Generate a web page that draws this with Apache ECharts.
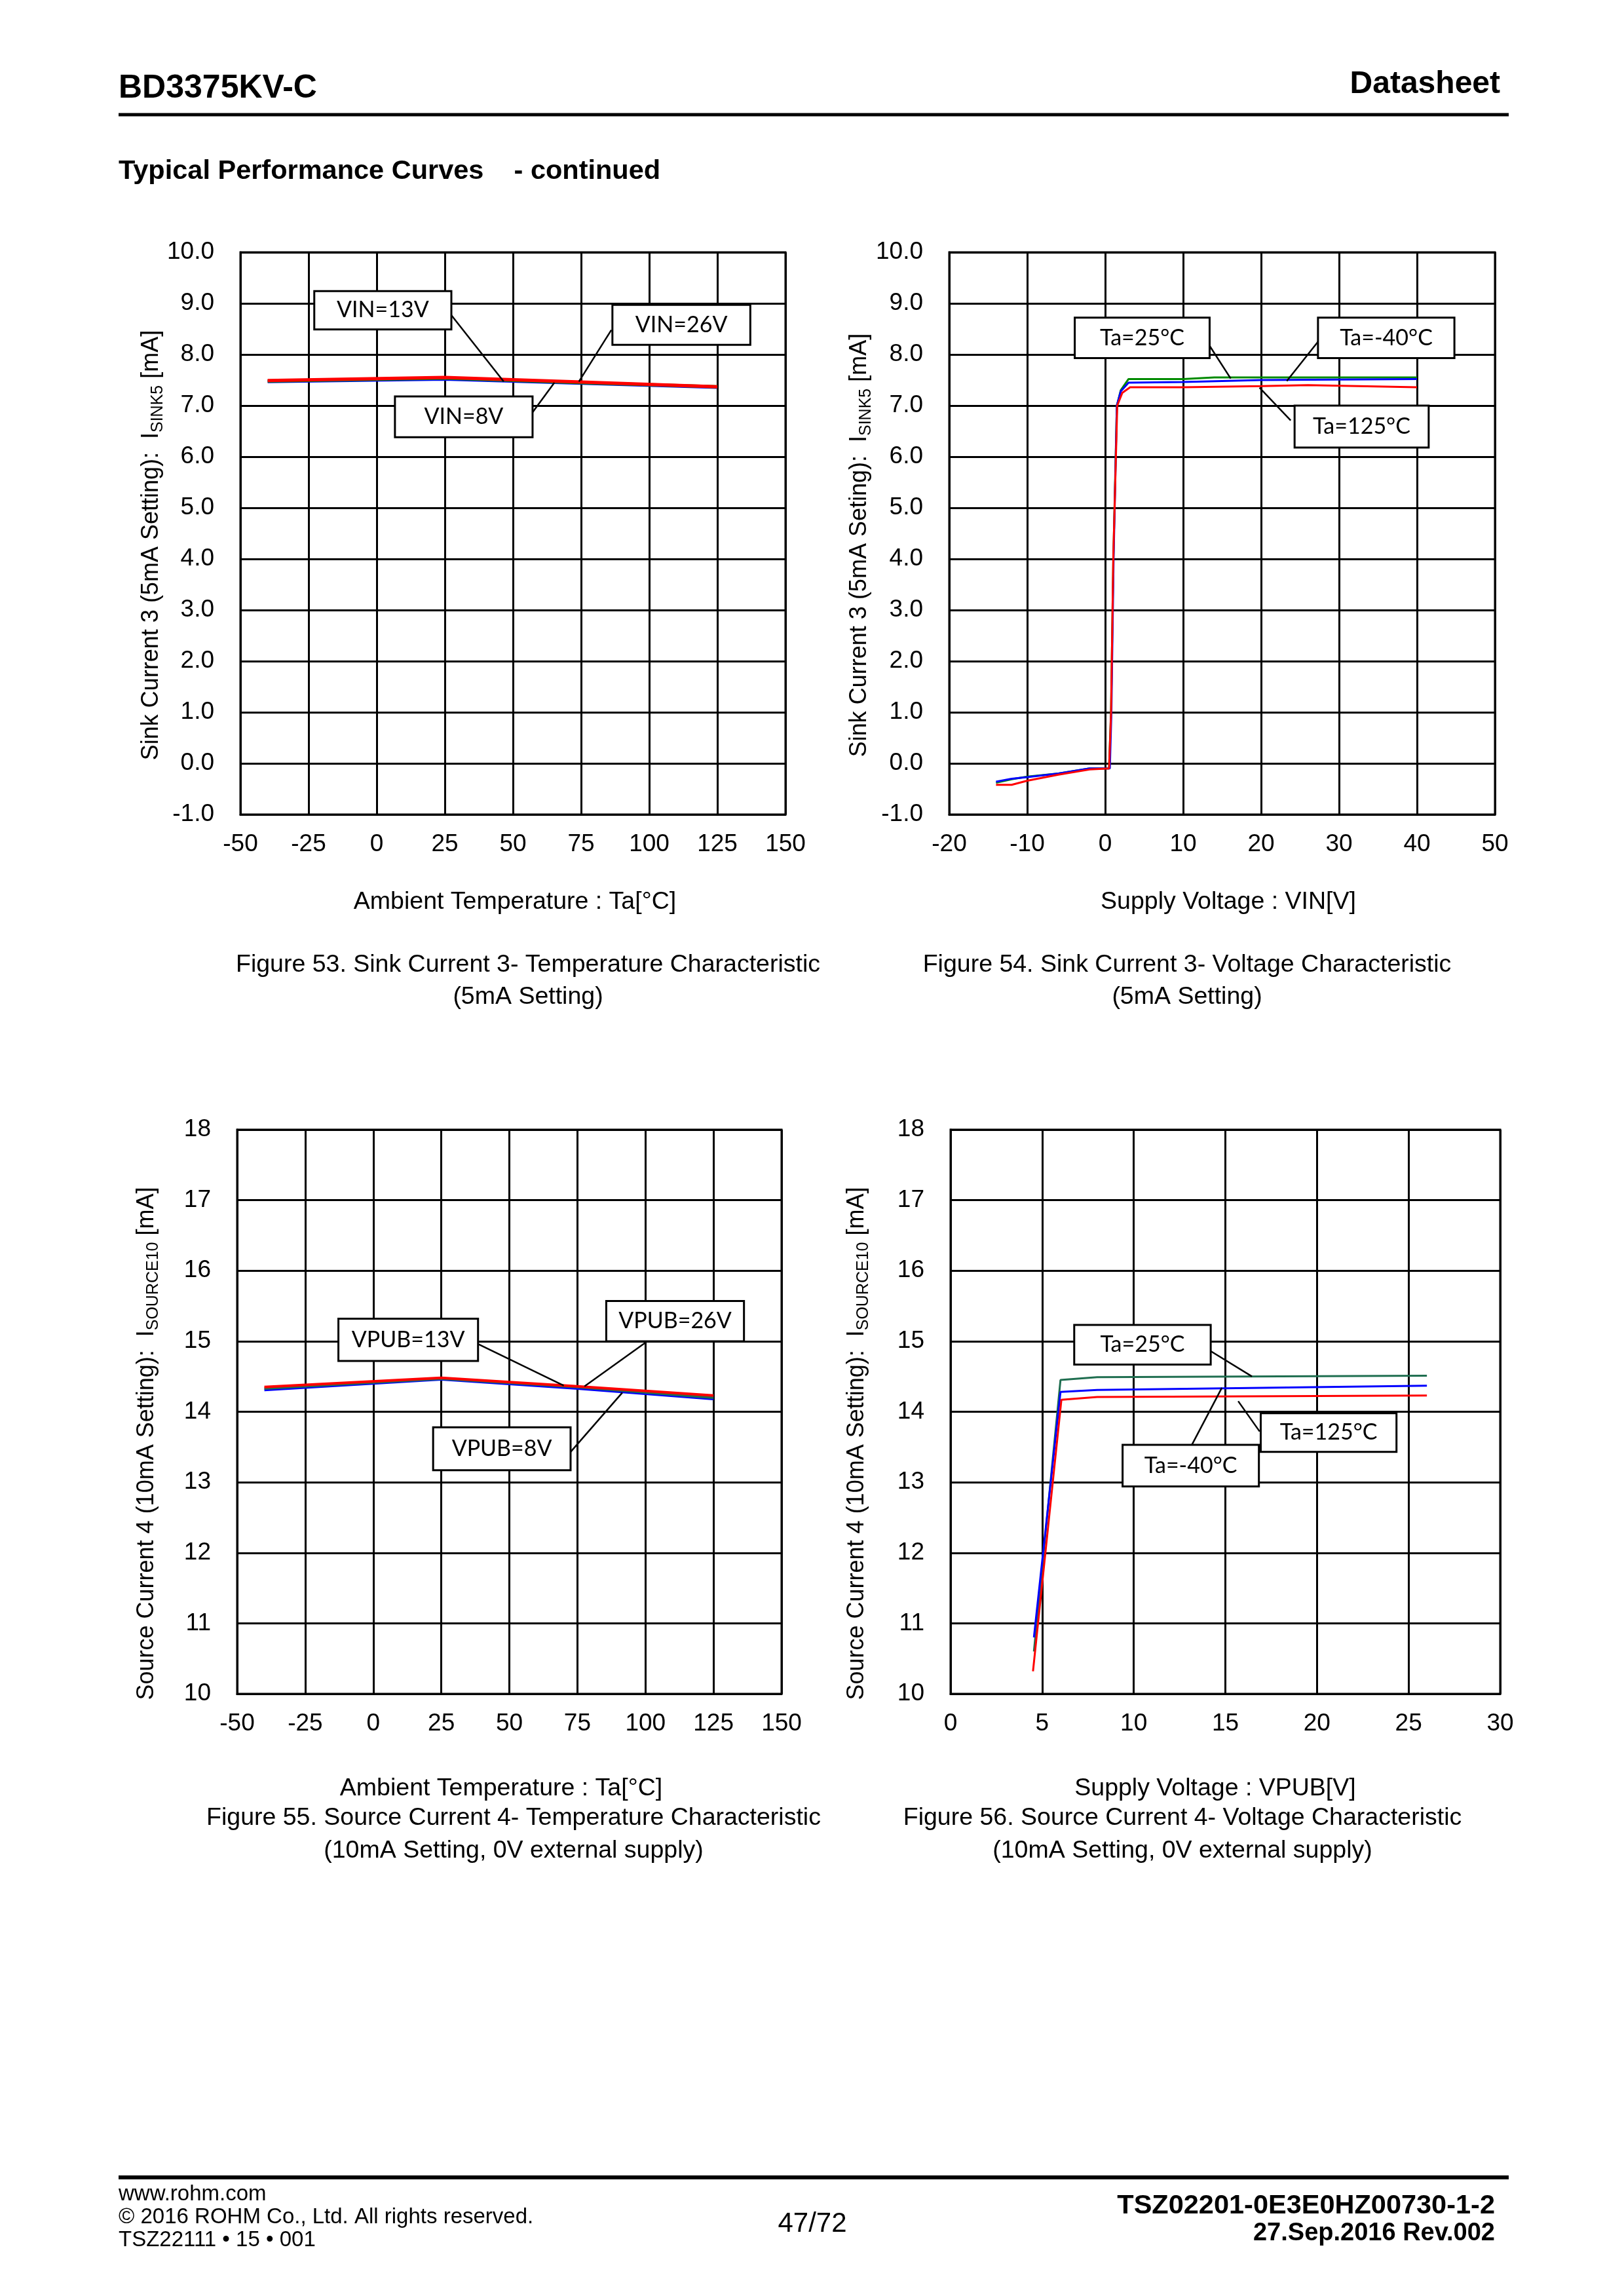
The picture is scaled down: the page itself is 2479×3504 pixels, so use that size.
<!DOCTYPE html>
<html>
<head>
<meta charset="utf-8">
<script src="https://cdn.jsdelivr.net/npm/echarts@6/dist/echarts.min.js"></script>
<style>html,body{margin:0;padding:0;background:#fff}#c{width:2479px;height:3504px}</style>
</head>
<body>
<div id="c"></div>
<script>
// ---------- DATA ----------
// Figure 53: Sink current vs temperature
const f53Temp = [-40, 25, 75, 125];
const f53Vin8 = [7.47, 7.52, 7.44, 7.36];
const f53Vin13 = [7.48, 7.54, 7.45, 7.37];
const f53Vin26 = [7.49, 7.55, 7.46, 7.37];

// Figure 54: Sink current vs supply voltage
const f54Ta25X = [-14, -12, -10, -6, -2, 0.5, 0.75, 1.05, 1.5, 2, 3, 10, 14, 40];
const f54Ta25Y = [-0.38, -0.31, -0.26, -0.2, -0.1, -0.1, 1.0, 4.0, 7.0, 7.3, 7.52, 7.52, 7.55, 7.55];
const f54TaM40X = [-14, -12, -10, -6, -2, 0.6, 0.8, 1.08, 1.5, 2, 3, 10, 20, 40];
const f54TaM40Y = [-0.36, -0.3, -0.27, -0.2, -0.1, -0.1, 1.0, 4.0, 7.0, 7.28, 7.45, 7.46, 7.5, 7.52];
const f54Ta125X = [-14, -12, -10, -6, -2, 0.5, 0.76, 1.04, 1.55, 2.2, 3.2, 10, 20, 26, 40];
const f54Ta125Y = [-0.42, -0.42, -0.34, -0.22, -0.12, -0.1, 1.0, 4.0, 7.0, 7.25, 7.36, 7.36, 7.38, 7.4, 7.36];

// Figure 55: Source current vs temperature
const f55Temp = [-40, 25, 75, 125];
const f55Vpub8 = [14.31, 14.46, 14.33, 14.18];
const f55Vpub13 = [14.33, 14.47, 14.35, 14.20];
const f55Vpub26 = [14.35, 14.48, 14.36, 14.23];

// Figure 56: Source current vs supply voltage
const f56Ta25X = [4.55, 6, 8, 26];
const f56Ta25Y = [10.6, 14.45, 14.49, 14.51];
const f56TaM40X = [4.55, 6, 8, 26];
const f56TaM40Y = [10.8, 14.28, 14.31, 14.37];
const f56Ta125X = [4.5, 6.05, 8, 26];
const f56Ta125Y = [10.32, 14.17, 14.21, 14.23];

// Axis tick setups
const tempAxis = {min: -50, max: 150, interval: 25};
const vinAxis = {min: -20, max: 50, interval: 10};
const vpubAxis = {min: 0, max: 30, interval: 5};
const sinkAxis = {min: -1, max: 10, interval: 1};
const srcAxis = {min: 10, max: 18, interval: 1};

// ---------- STYLE / LAYOUT ----------
const FONT = '"Liberation Sans", Arial, sans-serif';
const BOXFONT = 'Lato, "Open Sans", sans-serif';
const BLUE = '#0000FF', GREEN = '#008A00', RED = '#FF0000', DKGREEN = '#1F6E50';

const grids = [
  {left: 367, top: 385, width: 832, height: 858},
  {left: 1449, top: 385, width: 833, height: 858},
  {left: 362, top: 1724, width: 831, height: 861},
  {left: 1451, top: 1724, width: 839, height: 861}
];

function zip(xs, ys) { return xs.map((x, i) => [x, ys[i]]); }

function xAx(i, a) {
  return {type: 'value', gridIndex: i, min: a.min, max: a.max, interval: a.interval,
    axisLine: {show: true, onZero: false, lineStyle: {color: '#000', width: 3}},
    axisTick: {show: false},
    splitLine: {show: true, lineStyle: {color: '#000', width: 3}},
    axisLabel: {color: '#000', fontSize: 37, fontFamily: FONT, margin: 27}};
}
function yAx(i, a, dec) {
  return {type: 'value', gridIndex: i, min: a.min, max: a.max, interval: a.interval,
    axisLine: {show: true, onZero: false, lineStyle: {color: '#000', width: 3}},
    axisTick: {show: false},
    splitLine: {show: true, lineStyle: {color: '#000', width: 3}},
    axisLabel: {color: '#000', fontSize: 37, fontFamily: FONT, margin: 40,
      formatter: v => dec ? v.toFixed(1) : String(v)}};
}
function ln(i, name, data, color, w) {
  return {type: 'line', name: name, xAxisIndex: i, yAxisIndex: i, data: data,
    showSymbol: false, symbol: 'none', lineStyle: {color: color, width: w}, itemStyle: {color: color},
    animation: false, z: 3};
}

const chart = echarts.init(document.getElementById('c'), null, {renderer: 'canvas'});
chart.setOption({
  backgroundColor: '#fff',
  animation: false,
  grid: grids.map(g => Object.assign({show: true, borderColor: '#000', borderWidth: 3, backgroundColor: '#fff'}, g)),
  xAxis: [xAx(0, tempAxis), xAx(1, vinAxis), xAx(2, tempAxis), xAx(3, vpubAxis)],
  yAxis: [yAx(0, sinkAxis, true), yAx(1, sinkAxis, true), yAx(2, srcAxis, false), yAx(3, srcAxis, false)],
  series: [
    ln(0, 'VIN=8V', zip(f53Temp, f53Vin8), BLUE, 5),
    ln(0, 'VIN=13V', zip(f53Temp, f53Vin13), GREEN, 5),
    ln(0, 'VIN=26V', zip(f53Temp, f53Vin26), RED, 5),
    ln(1, 'Ta=25°C', zip(f54Ta25X, f54Ta25Y), GREEN, 3),
    ln(1, 'Ta=-40°C', zip(f54TaM40X, f54TaM40Y), BLUE, 3),
    ln(1, 'Ta=125°C', zip(f54Ta125X, f54Ta125Y), RED, 3),
    ln(2, 'VPUB=8V', zip(f55Temp, f55Vpub8), BLUE, 4),
    ln(2, 'VPUB=13V', zip(f55Temp, f55Vpub13), DKGREEN, 4),
    ln(2, 'VPUB=26V', zip(f55Temp, f55Vpub26), RED, 4),
    ln(3, 'Ta=25°C', zip(f56Ta25X, f56Ta25Y), DKGREEN, 3),
    ln(3, 'Ta=-40°C', zip(f56TaM40X, f56TaM40Y), BLUE, 3),
    ln(3, 'Ta=125°C', zip(f56Ta125X, f56Ta125Y), RED, 3)
  ]
});

// ---------- ANNOTATIONS (callout boxes, in data coordinates) ----------
const callouts = [
  [0, 'VIN=13V', [-22.9, 9.24, 27.4, 8.49], [27.4, 8.77, 46.6, 7.47]],
  [0, 'VIN=26V', [86.5, 8.97, 137.1, 8.19], [86.1, 8.48, 74.2, 7.47]],
  [0, 'VIN=8V', [6.7, 7.18, 57.2, 6.38], [57.2, 6.87, 65.2, 7.45]],
  [1, 'Ta=25°C', [-3.9, 8.72, 13.4, 7.93], [13.4, 8.17, 16.1, 7.53]],
  [1, 'Ta=-40°C', [27.3, 8.72, 44.8, 7.93], [27.3, 8.25, 23.3, 7.48]],
  [1, 'Ta=125°C', [24.3, 7.0, 41.5, 6.18], [23.8, 6.71, 19.8, 7.35]],
  [2, 'VPUB=13V', [-12.8, 15.32, 38.5, 14.72], [38.5, 14.96, 70.0, 14.37]],
  [2, 'VPUB=26V', [85.6, 15.57, 136.2, 15.0], [100.0, 14.98, 77.6, 14.36]],
  [2, 'VPUB=8V', [22, 13.78, 72.5, 13.17], [72.5, 13.43, 91.5, 14.27]],
  [3, 'Ta=25°C', [6.75, 15.23, 14.2, 14.67], [14.2, 14.86, 16.45, 14.5]],
  [3, 'Ta=125°C', [16.93, 13.98, 24.34, 13.43], [16.87, 13.72, 15.7, 14.15]],
  [3, 'Ta=-40°C', [9.39, 13.53, 16.83, 12.94], [13.17, 13.53, 14.81, 14.34]]
];

const gfx = [];
function txt(x, y, s, size, opts) {
  opts = opts || {};
  gfx.push({type: 'text', x: x, y: y, z: 100, silent: true, rotation: opts.rot || 0,
    style: {text: s, fill: '#000', font: (opts.bold ? 'bold ' : '') + size + 'px ' + (opts.family || FONT),
      textAlign: opts.align || 'left', textVerticalAlign: 'middle', align: opts.align || 'left', verticalAlign: 'middle',
      rich: opts.rich}});
}
callouts.forEach(c => {
  const gi = c[0];
  const p1 = chart.convertToPixel({gridIndex: gi}, [c[2][0], c[2][1]]);
  const p2 = chart.convertToPixel({gridIndex: gi}, [c[2][2], c[2][3]]);
  const a = chart.convertToPixel({gridIndex: gi}, [c[3][0], c[3][1]]);
  const b = chart.convertToPixel({gridIndex: gi}, [c[3][2], c[3][3]]);
  gfx.push({type: 'line', z: 99, silent: true, shape: {x1: a[0], y1: a[1], x2: b[0], y2: b[1]},
    style: {stroke: '#000', lineWidth: 2.5}});
  gfx.push({type: 'rect', z: 100, silent: true,
    shape: {x: p1[0], y: p1[1], width: p2[0] - p1[0], height: p2[1] - p1[1]},
    style: {fill: '#fff', stroke: '#000', lineWidth: 3}});
  txt((p1[0] + p2[0]) / 2, (p1[1] + p2[1]) / 2, c[1], 34, {align: 'center', family: BOXFONT});
});

// Y axis titles (with subscripts)
const yRich = {a: {fontSize: 36, fontFamily: FONT, lineHeight: 46, verticalAlign: 'middle'},
  s: {fontSize: 25, fontFamily: FONT, lineHeight: 28, verticalAlign: 'bottom'}};
txt(231, 832, '{a|Sink Current 3 (5mA Setting):  I}{s|SINK5}{a| [mA]}', 36, {align: 'center', rot: Math.PI / 2, rich: yRich});
txt(1312, 832, '{a|Sink Current 3 (5mA Seting):  I}{s|SINK5}{a| [mA]}', 36, {align: 'center', rot: Math.PI / 2, rich: yRich});
txt(224, 2203, '{a|Source Current 4 (10mA Setting):  I}{s|SOURCE10}{a| [mA]}', 36, {align: 'center', rot: Math.PI / 2, rich: yRich});
txt(1308, 2203, '{a|Source Current 4 (10mA Setting):  I}{s|SOURCE10}{a| [mA]}', 36, {align: 'center', rot: Math.PI / 2, rich: yRich});

// X axis titles and captions
const CAP = 37.5;
txt(786, 1377, 'Ambient Temperature : Ta[°C]', CAP, {align: 'center'});
txt(1875, 1377, 'Supply Voltage : VIN[V]', CAP, {align: 'center'});
txt(806, 1473, 'Figure 53. Sink Current 3- Temperature Characteristic', CAP, {align: 'center'});
txt(806, 1522, '(5mA Setting)', CAP, {align: 'center'});
txt(1812, 1473, 'Figure 54. Sink Current 3- Voltage Characteristic', CAP, {align: 'center'});
txt(1812, 1522, '(5mA Setting)', CAP, {align: 'center'});
txt(765, 2730, 'Ambient Temperature : Ta[°C]', CAP, {align: 'center'});
txt(1855, 2730, 'Supply Voltage : VPUB[V]', CAP, {align: 'center'});
txt(784, 2775, 'Figure 55. Source Current 4- Temperature Characteristic', CAP, {align: 'center'});
txt(784, 2825, '(10mA Setting, 0V external supply)', CAP, {align: 'center'});
txt(1805, 2775, 'Figure 56. Source Current 4- Voltage Characteristic', CAP, {align: 'center'});
txt(1805, 2825, '(10mA Setting, 0V external supply)', CAP, {align: 'center'});

// Header
txt(181, 135, 'BD3375KV-C', 50, {bold: true});
txt(2290, 129, 'Datasheet', 48, {bold: true, align: 'right'});
gfx.push({type: 'line', z: 100, silent: true, shape: {x1: 181, y1: 175, x2: 2303, y2: 175}, style: {stroke: '#000', lineWidth: 5}});
txt(181, 262, 'Typical Performance Curves    - continued', 41.5, {bold: true});

// Footer
gfx.push({type: 'line', z: 100, silent: true, shape: {x1: 181, y1: 3323, x2: 2303, y2: 3323}, style: {stroke: '#000', lineWidth: 6}});
txt(181, 3349, 'www.rohm.com', 33);
txt(181, 3384, '© 2016 ROHM Co., Ltd. All rights reserved.', 33);
txt(181, 3419, 'TSZ22111 • 15 • 001', 33);
txt(1240, 3394, '47/72', 42, {align: 'center'});
txt(2282, 3367, 'TSZ02201-0E3E0HZ00730-1-2', 41.5, {bold: true, align: 'right'});
txt(2282, 3409, '27.Sep.2016 Rev.002', 38, {bold: true, align: 'right'});

chart.setOption({graphic: gfx});
</script>
</body>
</html>
